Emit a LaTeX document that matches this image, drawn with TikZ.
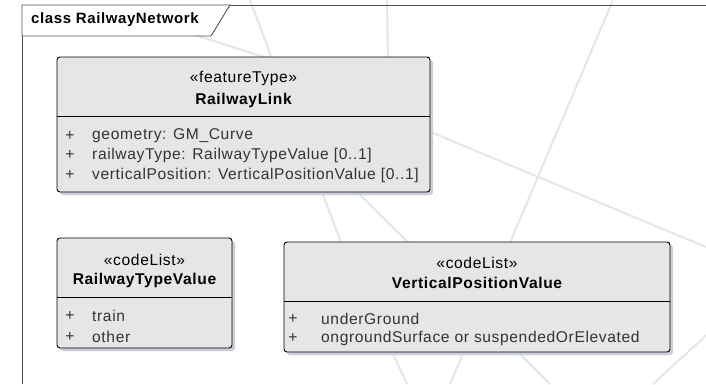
\documentclass[tikz,border=0pt]{standalone}
\usepackage{fontspec}
\setmainfont{Liberation Sans}
\newfontfamily\spaced[LetterSpace=4]{Liberation Sans}
\definecolor{boxfill}{HTML}{E6E6E6}
\definecolor{shadowc}{HTML}{C9CED8}
\definecolor{wmark}{HTML}{E2E7EE}
\definecolor{framec}{HTML}{505050}
\begin{document}
\begin{tikzpicture}[x=1pt,y=-1pt,
  umlbox/.style={draw=black, line width=0.9pt, rounded corners=3pt, fill=boxfill},
  shadowbox/.style={fill=shadowc, rounded corners=3pt},
  stereo/.style={font=\spaced\fontsize{15.6}{17}\selectfont, inner sep=0pt, anchor=center},
  cname/.style={font=\spaced\fontsize{15.6}{17}\selectfont\bfseries, inner sep=0pt, anchor=center},
  attr/.style={font=\spaced\fontsize{15.6}{17}\selectfont, inner sep=0pt, anchor=west, text=black!80},
  plus/.style={font=\fontsize{15.6}{17}\selectfont, inner sep=0pt, anchor=center, text=black!80},
  wm/.style={draw=wmark, line width=2pt}
]
\useasboundingbox (0,0) rectangle (706,384);
\fill[white] (0,0) rectangle (706,384);
% watermark lines
\draw[wm] (250,0) -- (340,240) -- (407,384);
\draw[wm] (387,0) -- (389,120);
\draw[wm] (290,125) -- (550,384);
\draw[wm] (433,133) -- (706,247);
\draw[wm] (613,0) -- (450,384);
\draw[wm] (712,330) -- (653,384);
\draw[wm] (195,35) -- (280,62);
% frame
\draw[framec, line width=0.9pt] (22,384) -- (22,5) -- (706,5);
\draw[framec, line width=0.9pt, fill=white] (22,5) -- (230,5) -- (211,36) -- (22,36) -- cycle;
\node[font=\spaced\fontsize{15}{17}\selectfont\bfseries, anchor=west, inner sep=0pt] (title) at (31,20) {class RailwayNetwork};
% RailwayLink
\fill[shadowbox] (60,60) rectangle (433,195);
\draw[umlbox] (57,57) rectangle (430,192);
\coordinate (rlL) at (57,116); \coordinate (rlR) at (430,116);
\draw[line width=0.9pt] (rlL) -- (rlR);
\node[stereo] (rls) at (243.5,78) {«featureType»};
\node[cname] (rln) at (243.5,100) {RailwayLink};
\node[plus] (rlp1) at (70,136) {+};
\node[plus] (rlp2) at (70,155) {+};
\node[plus] (rlp3) at (70,175) {+};
\node[attr] (rla1) at (92,136) {geometry: GM\_Curve};
\node[attr] (rla2) at (92,155) {railwayType: RailwayTypeValue [0..1]};
\node[attr] (rla3) at (92,175) {verticalPosition: VerticalPositionValue [0..1]};
% RailwayTypeValue
\fill[shadowbox] (60,241) rectangle (235,351);
\draw[umlbox] (57,238) rectangle (232,348);
\coordinate (rtL) at (57,297); \coordinate (rtR) at (232,297);
\draw[line width=0.9pt] (rtL) -- (rtR);
\node[stereo] (rts) at (144.5,260) {«codeList»};
\node[cname] (rtn) at (144.5,280) {RailwayTypeValue};
\node[plus] (rtp1) at (70,316) {+};
\node[plus] (rtp2) at (70,337) {+};
\node[attr] (rta1) at (92,316) {train};
\node[attr] (rta2) at (92,337) {other};
% VerticalPositionValue
\fill[shadowbox] (287,245) rectangle (673,355);
\draw[umlbox] (284,242) rectangle (670,352);
\coordinate (vpL) at (284,301); \coordinate (vpR) at (670,301);
\draw[line width=0.9pt] (vpL) -- (vpR);
\node[stereo] (vps) at (477,263) {«codeList»};
\node[cname] (vpn) at (477,283) {VerticalPositionValue};
\node[plus] (vpp1) at (293,319) {+};
\node[plus] (vpp2) at (293,338) {+};
\node[attr] (vpa1) at (321,319) {underGround};
\node[attr] (vpa2) at (321,338) {ongroundSurface or suspendedOrElevated};
\end{tikzpicture}
\end{document}
